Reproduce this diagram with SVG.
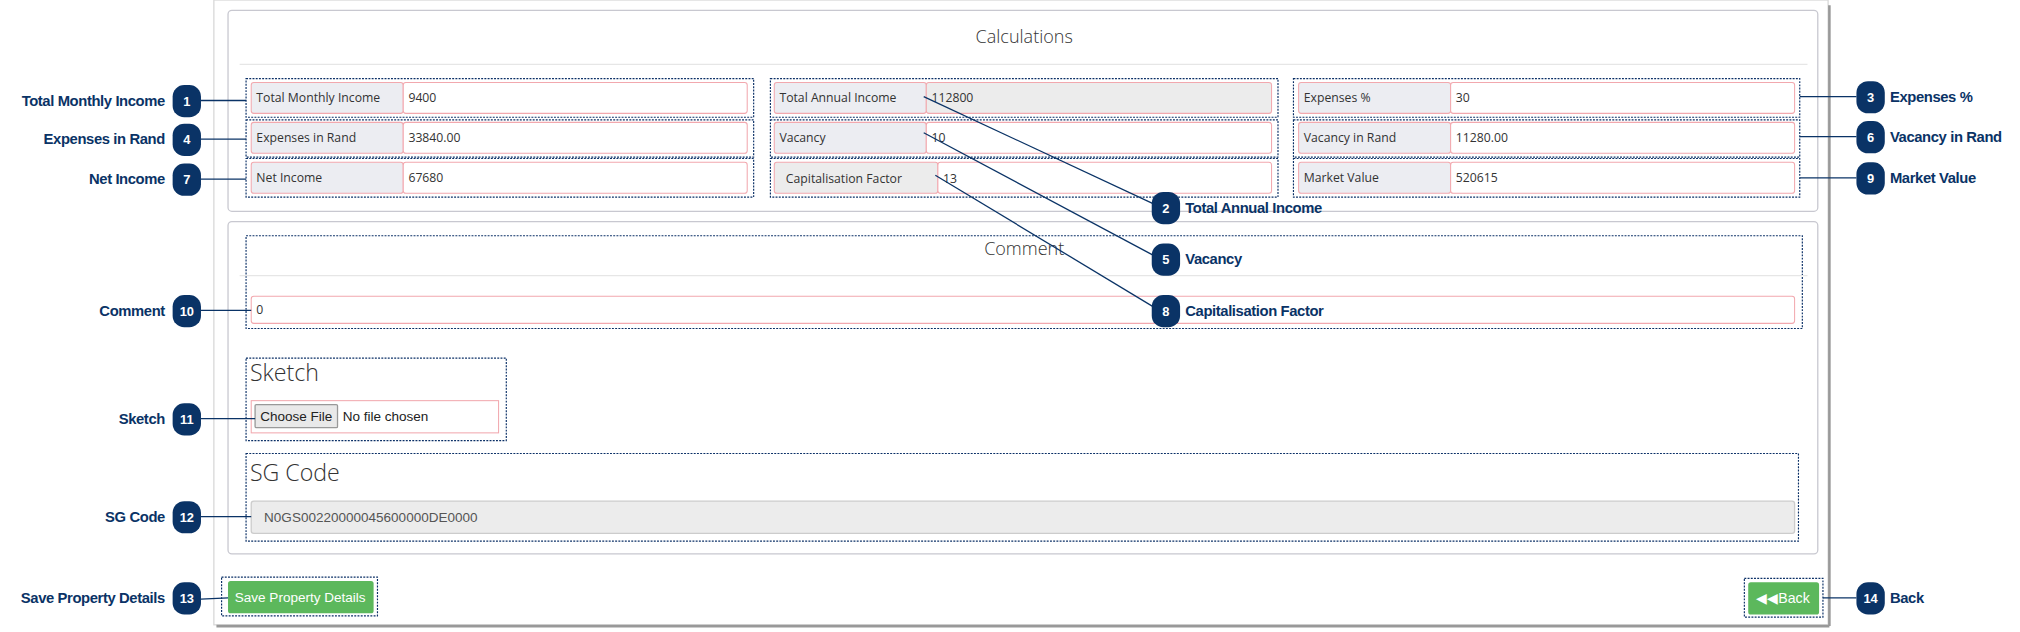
<svg xmlns="http://www.w3.org/2000/svg" width="2020" height="632" viewBox="0 0 2020 632">
<style>
.panel{fill:#fff;stroke:#c8c8d0;stroke-width:1}
.dot{fill:none;stroke:#0a2f66;stroke-width:0.9;stroke-dasharray:1.5 1}
.lab{fill:#ecedf2;stroke:#f2a8ae;stroke-width:0.8}
.val{fill:#fff;stroke:#f2a8ae;stroke-width:0.8}
.ro{fill:#ececec;stroke:#f2a8ae;stroke-width:0.8}
.t{font-family:"Open Sans","Liberation Sans",sans-serif;font-size:9.5px;fill:#333}
.h{font-family:"Open Sans","Liberation Sans",sans-serif;fill:#333;font-weight:300}
.b{fill:#0a3366}
.bn{font-family:"Liberation Sans",sans-serif;font-size:10px;font-weight:bold;fill:#fff;text-anchor:middle}
.cl{font-family:"Liberation Sans",sans-serif;font-size:11.5px;font-weight:bold;fill:#0a3366;letter-spacing:-0.3px}
.cn{stroke:#0a3366;stroke-width:1;fill:none}
</style>
<g transform="scale(1.2883)">
<rect x="0" y="0" width="1568" height="491" fill="#fff"/>
<g id="page">
<rect x="166" y="0" width="1253" height="485" fill="#fff" stroke="#d8d8d8"/>
<line x1="168" y1="486" x2="1420" y2="486" stroke="#999" stroke-width="2"/>
<line x1="1420" y1="4" x2="1420" y2="486" stroke="#999" stroke-width="2"/>
</g>
<g id="calc">
<rect class="panel" x="177" y="8" width="1234" height="156" rx="3"/>
<text class="h" x="795" y="33" font-size="14" text-anchor="middle">Calculations</text>
<line x1="186" y1="50" x2="1403" y2="50" stroke="#e6e6e6"/>
</g>
<g id="f1"><rect class="dot" x="191" y="61" width="394" height="30"/><rect class="lab" x="195" y="64" width="118" height="24" rx="2"/><rect class="val" x="313" y="64" width="267" height="24" rx="2"/><text class="t" x="199" y="79">Total Monthly Income</text><text class="t" x="317" y="79">9400</text></g>
<g id="f4"><rect class="dot" x="191" y="93" width="394" height="29"/><rect class="lab" x="195" y="95" width="118" height="24" rx="2"/><rect class="val" x="313" y="95" width="267" height="24" rx="2"/><text class="t" x="199" y="110">Expenses in Rand</text><text class="t" x="317" y="110">33840.00</text></g>
<g id="f7"><rect class="dot" x="191" y="123" width="394" height="30"/><rect class="lab" x="195" y="126" width="118" height="24" rx="2"/><rect class="val" x="313" y="126" width="267" height="24" rx="2"/><text class="t" x="199" y="141">Net Income</text><text class="t" x="317" y="141">67680</text></g>
<g id="f2"><rect class="dot" x="598" y="61" width="394" height="30"/><rect class="lab" x="601" y="64" width="118" height="24" rx="2"/><rect class="ro" x="719" y="64" width="268" height="24" rx="2"/><text class="t" x="605" y="79">Total Annual Income</text><text class="t" x="723" y="79">112800</text></g>
<g id="f5"><rect class="dot" x="598" y="93" width="394" height="29"/><rect class="lab" x="601" y="95" width="118" height="24" rx="2"/><rect class="val" x="719" y="95" width="268" height="24" rx="2"/><text class="t" x="605" y="110">Vacancy</text><text class="t" x="723" y="110">10</text></g>
<g id="f8"><rect class="dot" x="598" y="123" width="394" height="30"/><rect class="ro" x="601" y="126" width="127" height="24" rx="2"/><rect class="val" x="728" y="126" width="259" height="24" rx="2"/><text class="t" x="610" y="142" font-size="11" fill="#777">Capitalisation Factor</text><text class="t" x="732" y="142" font-size="11">13</text></g>
<g id="f3"><rect class="dot" x="1004" y="61" width="393" height="30"/><rect class="lab" x="1008" y="64" width="118" height="24" rx="2"/><rect class="val" x="1126" y="64" width="267" height="24" rx="2"/><text class="t" x="1012" y="79">Expenses %</text><text class="t" x="1130" y="79">30</text></g>
<g id="f6"><rect class="dot" x="1004" y="93" width="393" height="29"/><rect class="lab" x="1008" y="95" width="118" height="24" rx="2"/><rect class="val" x="1126" y="95" width="267" height="24" rx="2"/><text class="t" x="1012" y="110">Vacancy in Rand</text><text class="t" x="1130" y="110">11280.00</text></g>
<g id="f9"><rect class="dot" x="1004" y="123" width="393" height="30"/><rect class="lab" x="1008" y="126" width="118" height="24" rx="2"/><rect class="val" x="1126" y="126" width="267" height="24" rx="2"/><text class="t" x="1012" y="141">Market Value</text><text class="t" x="1130" y="141">520615</text></g>
<g id="comment">
<rect class="panel" x="177" y="172" width="1234" height="258" rx="3"/>
<rect class="dot" x="191" y="183" width="1208" height="72"/>
<text class="h" x="795" y="198" font-size="14" text-anchor="middle">Comment</text>
<line x1="186" y1="214" x2="1403" y2="214" stroke="#e6e6e6"/>
<rect class="val" x="195" y="230" width="1198" height="21" rx="2"/>
<text class="t" x="199" y="244">0</text>
</g>
<g id="sketch">
<rect class="dot" x="191" y="278" width="202" height="64"/>
<text class="h" x="194" y="296" font-size="18">Sketch</text>
<rect class="val" x="195" y="311" width="192" height="25"/>
<rect x="198" y="314" width="64" height="18" fill="#e9e9e9" stroke="#999" rx="1"/>
<text x="230" y="327" font-family="Liberation Sans,sans-serif" font-size="10.5" fill="#222" text-anchor="middle">Choose File</text>
<text x="266" y="327" font-family="Liberation Sans,sans-serif" font-size="10.5" fill="#222">No file chosen</text>
</g>
<g id="sgcode">
<rect class="dot" x="191" y="352" width="1205" height="68"/>
<text class="h" x="194" y="373" font-size="18">SG Code</text>
<rect x="195" y="389" width="1198" height="25" rx="2" fill="#ececec" stroke="#ccc"/>
<text x="205" y="405" font-family="Liberation Sans,sans-serif" font-size="10.5" fill="#555">N0GS00220000045600000DE0000</text>
</g>
<g id="save">
<rect class="dot" x="172" y="448" width="121" height="30"/>
<rect x="177" y="451" width="113" height="25" rx="2" fill="#5cb85c"/>
<text x="233" y="467" font-family="Liberation Sans,sans-serif" font-size="10.5" fill="#fff" text-anchor="middle">Save Property Details</text>
</g>
<g id="back">
<rect class="dot" x="1354" y="449" width="61" height="30"/>
<rect x="1357" y="452" width="55" height="25" rx="2" fill="#5cb85c"/>
<text x="1384" y="468" font-family="Liberation Sans,sans-serif" font-size="11" fill="#fff" text-anchor="middle">◀◀Back</text>
</g>
<g id="connectors">
<line class="cn" x1="156" y1="78" x2="191" y2="78"/>
<line class="cn" x1="156" y1="108" x2="191" y2="108"/>
<line class="cn" x1="156" y1="139" x2="191" y2="139"/>
<line class="cn" x1="156" y1="241" x2="195" y2="241"/>
<line class="cn" x1="156" y1="325" x2="198" y2="325"/>
<line class="cn" x1="156" y1="401" x2="195" y2="401"/>
<line class="cn" x1="156" y1="465" x2="177" y2="464"/>
<line class="cn" x1="1397" y1="75" x2="1441" y2="75"/>
<line class="cn" x1="1397" y1="106" x2="1441" y2="106"/>
<line class="cn" x1="1397" y1="138" x2="1441" y2="138"/>
<line class="cn" x1="1415" y1="464" x2="1441" y2="464"/>
<line class="cn" x1="717" y1="75" x2="895" y2="158"/>
<line class="cn" x1="717" y1="103" x2="895" y2="198"/>
<line class="cn" x1="726" y1="136" x2="895" y2="238"/>
</g>
<g id="c1"><rect class="b" x="134" y="66" width="22" height="25" rx="9"/><text class="bn" x="145" y="82">1</text><text class="cl" x="128" y="82" text-anchor="end">Total Monthly Income</text></g>
<g id="c4"><rect class="b" x="134" y="96" width="22" height="25" rx="9"/><text class="bn" x="145" y="112">4</text><text class="cl" x="128" y="112" text-anchor="end">Expenses in Rand</text></g>
<g id="c7"><rect class="b" x="134" y="127" width="22" height="25" rx="9"/><text class="bn" x="145" y="143">7</text><text class="cl" x="128" y="143" text-anchor="end">Net Income</text></g>
<g id="c10"><rect class="b" x="134" y="229" width="22" height="25" rx="9"/><text class="bn" x="145" y="245">10</text><text class="cl" x="128" y="245" text-anchor="end">Comment</text></g>
<g id="c11"><rect class="b" x="134" y="313" width="22" height="25" rx="9"/><text class="bn" x="145" y="329">11</text><text class="cl" x="128" y="329" text-anchor="end">Sketch</text></g>
<g id="c12"><rect class="b" x="134" y="389" width="22" height="25" rx="9"/><text class="bn" x="145" y="405">12</text><text class="cl" x="128" y="405" text-anchor="end">SG Code</text></g>
<g id="c13"><rect class="b" x="134" y="452" width="22" height="25" rx="9"/><text class="bn" x="145" y="468">13</text><text class="cl" x="128" y="468" text-anchor="end">Save Property Details</text></g>
<g id="c3"><rect class="b" x="1441" y="63" width="22" height="25" rx="9"/><text class="bn" x="1452" y="79">3</text><text class="cl" x="1467" y="79">Expenses %</text></g>
<g id="c6"><rect class="b" x="1441" y="94" width="22" height="25" rx="9"/><text class="bn" x="1452" y="110">6</text><text class="cl" x="1467" y="110">Vacancy in Rand</text></g>
<g id="c9"><rect class="b" x="1441" y="126" width="22" height="25" rx="9"/><text class="bn" x="1452" y="142">9</text><text class="cl" x="1467" y="142">Market Value</text></g>
<g id="c14"><rect class="b" x="1441" y="452" width="22" height="25" rx="9"/><text class="bn" x="1452" y="468">14</text><text class="cl" x="1467" y="468">Back</text></g>
<g id="c2"><rect class="b" x="894" y="149" width="22" height="25" rx="9"/><text class="bn" x="905" y="165">2</text><text class="cl" x="920" y="165">Total Annual Income</text></g>
<g id="c5"><rect class="b" x="894" y="189" width="22" height="25" rx="9"/><text class="bn" x="905" y="205">5</text><text class="cl" x="920" y="205">Vacancy</text></g>
<g id="c8"><rect class="b" x="894" y="229" width="22" height="25" rx="9"/><text class="bn" x="905" y="245">8</text><text class="cl" x="920" y="245">Capitalisation Factor</text></g>
</g>
</svg>
